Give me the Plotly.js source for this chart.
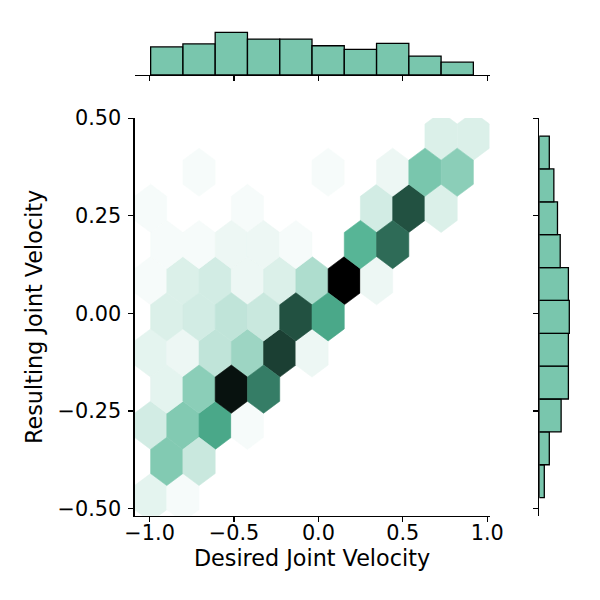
<!DOCTYPE html>
<html>
<head>
<meta charset="utf-8">
<script src="https://cdn.plot.ly/plotly-3.0.1.min.js"></script>
<style>html,body{margin:0;padding:0;background:#fff;}#chart{width:600px;height:600px;}</style>
</head>
<body>
<div id="chart"></div>
<script>
// ---- data ----
const baseColor = [76, 179, 145];           // #4CB391
const xDataMin = -0.994, xDataMax = 0.918;  // extent of the x values
const yDataMin = -0.472, yDataMax = 0.454;  // extent of the y values
const gridSize = 10;                        // hexbin gridsize (x direction)

// hex counts, lattice 1 (rows bottom->top, 11 columns)
const lattice1Counts = [
  [3, 1, 0, 0, 0, 0, 0, 0, 0, 0, 0],
  [5, 14, 21, 1, 0, 0, 0, 0, 0, 0, 0],
  [3, 2, 7, 11, 33, 2, 0, 0, 0, 0, 0],
  [1, 4, 5, 2, 4, 9, 40, 2, 0, 0, 0],
  [1, 0, 0, 1, 0, 0, 0, 5, 31, 4, 0],
  [0, 0, 0, 0, 0, 0, 0, 0, 0, 4, 4]
];
// hex counts, lattice 2 (offset rows, bottom->top, 10 columns)
const lattice2Counts = [
  [14, 6, 0, 0, 0, 0, 0, 0, 0, 0],
  [3, 13, 38, 26, 0, 0, 0, 0, 0, 0],
  [4, 5, 7, 6, 31, 21, 0, 0, 0, 0],
  [1, 1, 2, 2, 1, 0, 19, 28, 0, 0],
  [0, 1, 0, 0, 0, 1, 0, 2, 15, 13]
];

// marginal histograms
const xHistCounts = [46, 51, 70, 59, 59, 48, 42, 52, 31, 21];
const yHistCounts = [11, 22, 48, 64, 64, 66, 64, 46, 40, 32, 22]; // bottom->top

// ticks
const xTickVals = [-1.0, -0.5, 0.0, 0.5, 1.0];
const xTickText = ['\u22121.0', '\u22120.5', '0.0', '0.5', '1.0'];
const yTickVals = [-0.5, -0.25, 0.0, 0.25, 0.5];
const yTickText = ['\u22120.50', '\u22120.25', '0.00', '0.25', '0.50'];

const xLabel = 'Desired Joint Velocity';
const yLabel = 'Resulting Joint Velocity';

// ---- colormap (seaborn jointplot hex: hls lightness 1 -> 0) ----
function rgbToHls(r, g, b) {
  r /= 255; g /= 255; b /= 255;
  const mx = Math.max(r, g, b), mn = Math.min(r, g, b);
  const l = (mx + mn) / 2;
  if (mx === mn) return [0, l, 0];
  const d = mx - mn;
  const s = l <= 0.5 ? d / (mx + mn) : d / (2 - mx - mn);
  let h;
  if (mx === r) h = ((g - b) / d) % 6;
  else if (mx === g) h = (b - r) / d + 2;
  else h = (r - g) / d + 4;
  h /= 6; if (h < 0) h += 1;
  return [h, l, s];
}
function hlsToRgb(h, l, s) {
  if (s === 0) return [l, l, l];
  const m2 = l <= 0.5 ? l * (1 + s) : l + s - l * s;
  const m1 = 2 * l - m2;
  function v(hue) {
    hue = ((hue % 1) + 1) % 1;
    if (hue < 1 / 6) return m1 + (m2 - m1) * hue * 6;
    if (hue < 0.5) return m2;
    if (hue < 2 / 3) return m1 + (m2 - m1) * (2 / 3 - hue) * 6;
    return m1;
  }
  return [v(h + 1 / 3), v(h), v(h - 1 / 3)];
}
const [bh, bl, bs] = rgbToHls(...baseColor);
const stops = [];
for (let k = 0; k < 12; k++) {
  const l = 1 - k / 11;
  stops.push(hlsToRgb(bh, Math.min(1, Math.max(0, l)), bs));
}
function cmap(t) {
  t = Math.min(1, Math.max(0, t));
  const pos = t * 11;
  const k = Math.min(10, Math.floor(pos));
  const f = pos - k;
  const c = stops[k].map((a, idx) => a + (stops[k + 1][idx] - a) * f);
  return 'rgb(' + c.map(a => Math.round(a * 255)).join(',') + ')';
}

// ---- hexbin geometry (matplotlib style) ----
const nx = gridSize;
const ny = Math.floor(nx / Math.sqrt(3));
const sx = (xDataMax - xDataMin) / nx;
const sy = (yDataMax - yDataMin) / ny;
const hexShape = [[0.5, -0.5], [0.5, 0.5], [0, 1], [-0.5, 0.5], [-0.5, -0.5], [0, -1], [0.5, -0.5]];

let cmax = 0;
lattice1Counts.forEach(r => r.forEach(c => { cmax = Math.max(cmax, c); }));
lattice2Counts.forEach(r => r.forEach(c => { cmax = Math.max(cmax, c); }));

const traces = [];
function addHex(cx, cy, count) {
  if (count <= 0) return;
  const col = cmap(count / cmax);
  traces.push({
    type: 'scatter', mode: 'lines', fill: 'toself',
    x: hexShape.map(p => cx + p[0] * sx),
    y: hexShape.map(p => cy + p[1] * sy / 3),
    fillcolor: col, line: {color: col, width: 0.6},
    hoverinfo: 'skip', showlegend: false, xaxis: 'x', yaxis: 'y'
  });
}
lattice1Counts.forEach((row, j) => row.forEach((c, i) => addHex(xDataMin + i * sx, yDataMin + j * sy, c)));
lattice2Counts.forEach((row, j) => row.forEach((c, i) => addHex(xDataMin + (i + 0.5) * sx, yDataMin + (j + 0.5) * sy, c)));

// ---- marginal histograms ----
const barFill = 'rgba(' + baseColor.join(',') + ',0.75)';
const xbw = (xDataMax - xDataMin) / xHistCounts.length;
const ybw = (yDataMax - yDataMin) / yHistCounts.length;
traces.push({
  type: 'bar', xaxis: 'x2', yaxis: 'y2',
  x: xHistCounts.map((_, k) => xDataMin + (k + 0.5) * xbw),
  y: xHistCounts, width: xHistCounts.map(() => xbw),
  marker: {color: barFill, line: {color: '#000', width: 1.3}},
  hoverinfo: 'skip', showlegend: false
});
traces.push({
  type: 'bar', orientation: 'h', xaxis: 'x3', yaxis: 'y3',
  y: yHistCounts.map((_, k) => yDataMin + (k + 0.5) * ybw),
  x: yHistCounts, width: yHistCounts.map(() => ybw),
  marker: {color: barFill, line: {color: '#000', width: 1.3}},
  hoverinfo: 'skip', showlegend: false
});

// ---- layout ----
const xr = xDataMax - xDataMin, yr = yDataMax - yDataMin;
const xRange = [xDataMin - 0.05 * xr, xDataMax + 0.05 * xr];
const yRange = [yDataMin - 0.05 * yr, yDataMax + 0.05 * yr];
const xMaxHist = Math.max(...xHistCounts) * 1.05;
const yMaxHist = Math.max(...yHistCounts) * 1.05;

const F = '"DejaVu Sans", Verdana, sans-serif';
const px = v => v / 600;
const mainXDom = [px(134.5), px(489.5)];
const mainYDom = [1 - px(515.7), 1 - px(118)];

const axCommon = {
  showline: true, linecolor: '#000', linewidth: 1.1,
  ticks: 'outside', ticklen: 5, tickwidth: 1.1, tickcolor: '#000',
  showgrid: false, zeroline: false, fixedrange: true
};

const layout = {
  width: 600, height: 600,
  margin: {l: 0, r: 0, t: 0, b: 0},
  paper_bgcolor: '#fff', plot_bgcolor: 'rgba(0,0,0,0)',
  showlegend: false,
  font: {family: F, color: '#000'},
  xaxis: Object.assign({}, axCommon, {
    domain: mainXDom, anchor: 'y', range: xRange,
    tickvals: xTickVals, ticktext: xTickText,
    tickfont: {family: F, size: 20.8, color: '#000'},
    ticklabelstandoff: -7,
    title: {text: xLabel, font: {family: F, size: 22.3, color: '#000'}, standoff: 2}
  }),
  yaxis: Object.assign({}, axCommon, {
    domain: mainYDom, anchor: 'x', range: yRange,
    tickvals: yTickVals, ticktext: yTickText,
    tickfont: {family: F, size: 20.8, color: '#000'},
    ticklabelstandoff: 3,
    title: {text: yLabel, font: {family: F, size: 22.3, color: '#000'}, standoff: 8}
  }),
  xaxis2: Object.assign({}, axCommon, {
    domain: mainXDom, anchor: 'y2', range: xRange,
    tickvals: xTickVals, showticklabels: false
  }),
  yaxis2: {
    domain: [1 - px(75), 1 - px(30.2)], anchor: 'x2', range: [0, xMaxHist],
    visible: false, fixedrange: true
  },
  xaxis3: {
    domain: [px(539.3), px(570.8)], anchor: 'y3', range: [0, yMaxHist],
    visible: false, fixedrange: true
  },
  yaxis3: Object.assign({}, axCommon, {
    domain: mainYDom, anchor: 'x3', range: yRange,
    tickvals: yTickVals, showticklabels: false
  })
};

Plotly.newPlot('chart', traces, layout, {staticPlot: true, displayModeBar: false});
</script>
</body>
</html>
